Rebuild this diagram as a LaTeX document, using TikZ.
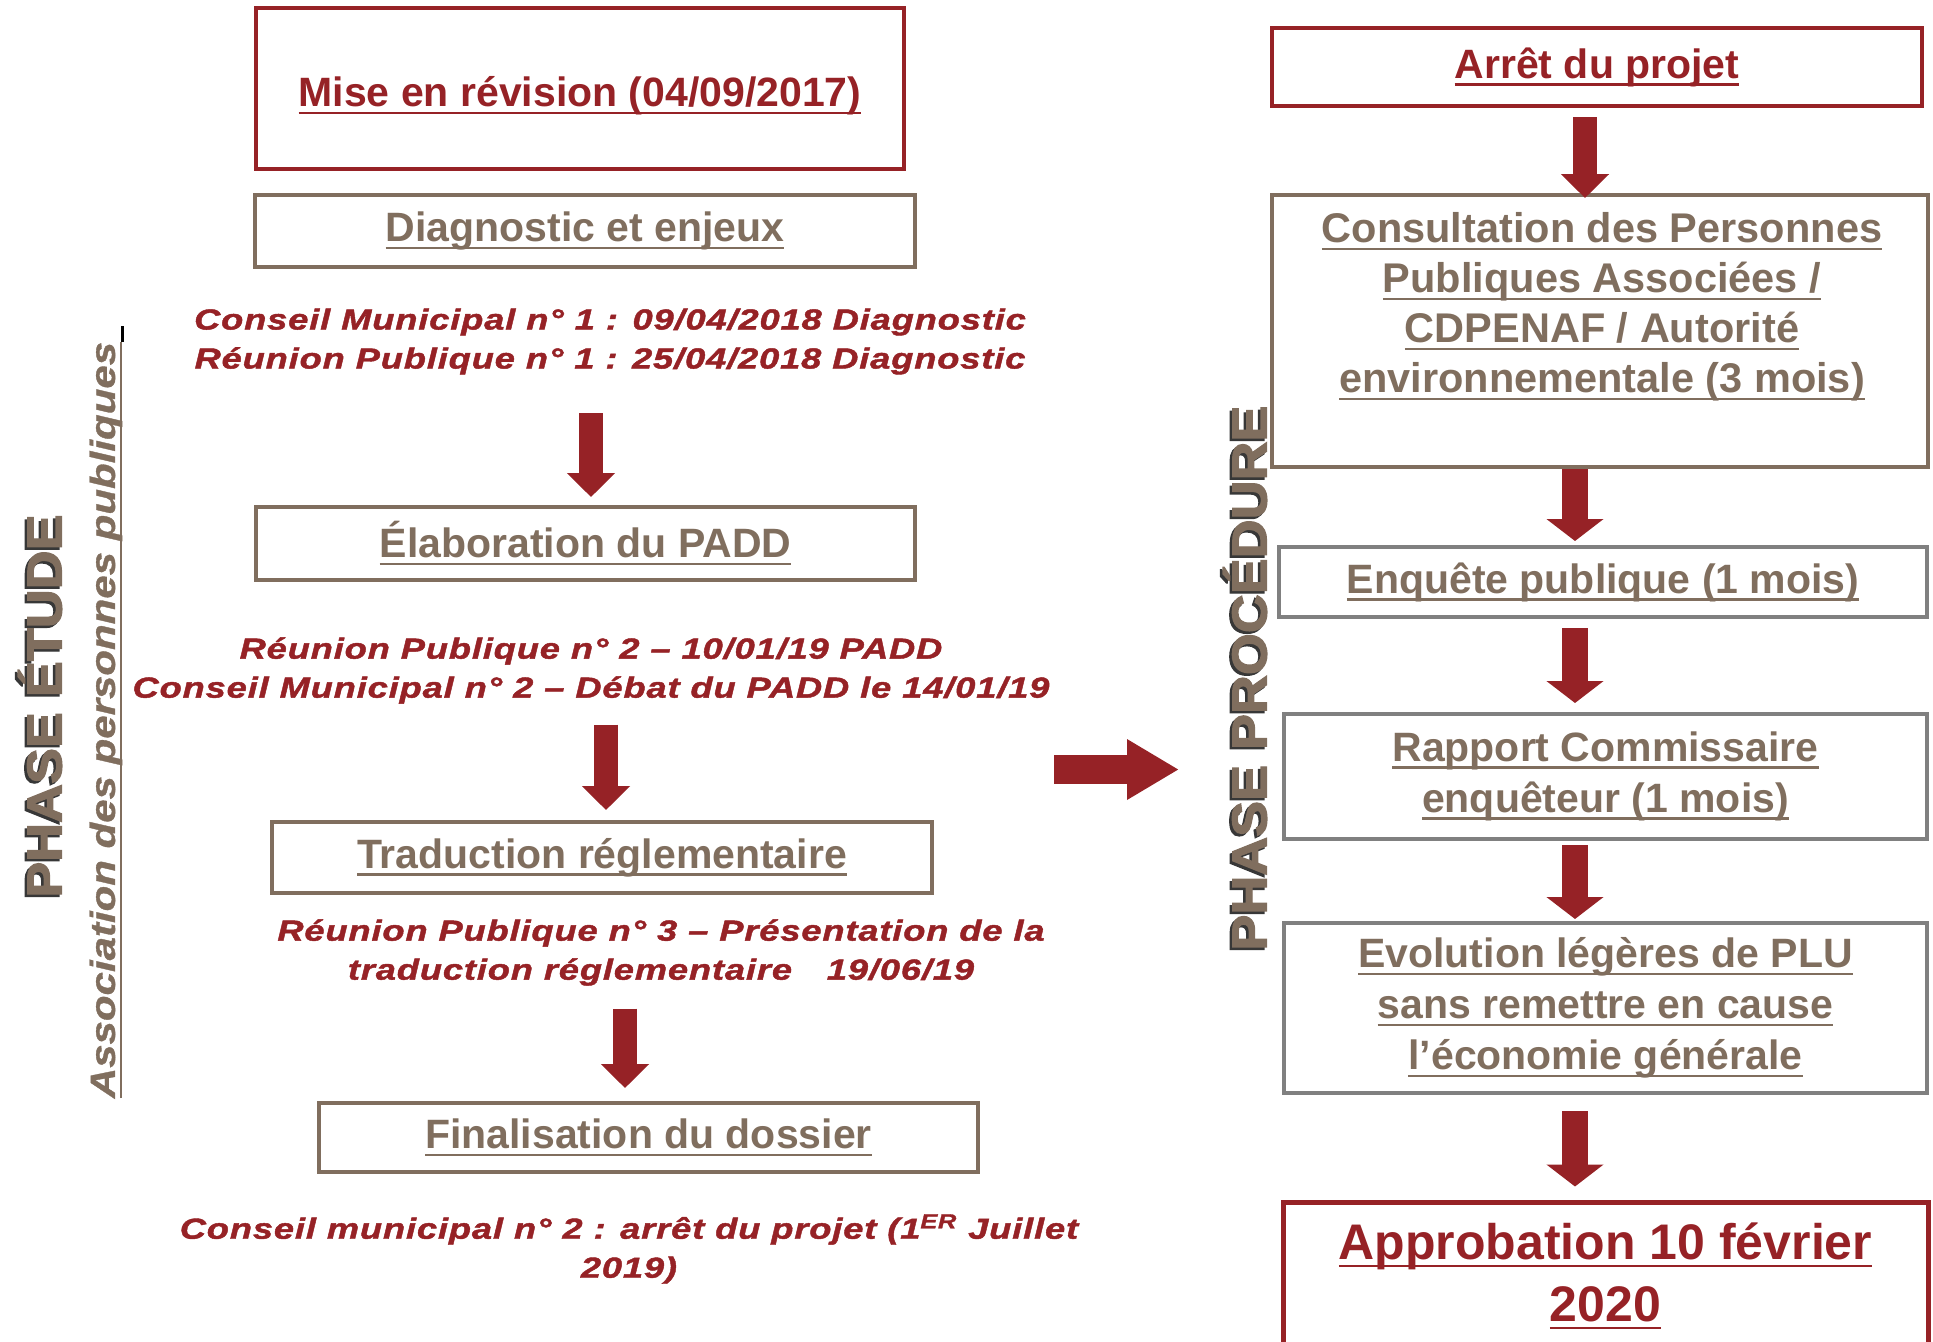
\documentclass[tikz,border=0pt]{standalone}
\usepackage{fontspec}
\setmainfont{Liberation Sans}
\newfontfamily\notefont[FakeStretch=1.25,LetterSpace=3,FakeBold=1.5]{Liberation Sans}
\newfontfamily\assocfont[FakeStretch=1.2,FakeBold=1]{Liberation Sans}
\newfontfamily\phasefont[FakeStretch=1.1,FakeBold=2.5]{Liberation Sans}
\usepackage{tikz}
\usetikzlibrary{arrows.meta,calc}

\definecolor{plured}{RGB}{150,34,38}
\definecolor{plubrown}{RGB}{128,110,94}
\definecolor{plugrey}{RGB}{128,128,128}
\definecolor{plushadow}{RGB}{55,55,55}

\newsavebox\ulsave
\newcommand{\ulbox}[1]{\sbox\ulsave{#1}\rlap{\vrule height -2.5pt depth 3.75pt width \wd\ulsave}\usebox\ulsave}

\tikzset{
  stepbox/.style={draw, line width=2pt, inner sep=0pt, align=center,
    font=\fontsize{20.5}{25.5}\selectfont\bfseries},
  redbox/.style={stepbox, draw=plured, text=plured},
  brownbox/.style={stepbox, draw=plubrown, text=plubrown},
  greybox/.style={stepbox, draw=plugrey, text=plubrown},
  boxtext/.style={align=center, inner sep=0pt, font=\fontsize{20.75}{25}\selectfont\bfseries},
  notetext/.style={text=plured, align=center, inner sep=0pt,
    font=\fontsize{14.5}{19.5}\notefont\bfseries\itshape},
  phasetext/.style={rotate=90, inner sep=0pt,
    font=\fontsize{24.5}{24.5}\phasefont\bfseries},
  downarrow/.style={plured, line width=12pt, -{Triangle[width=23.5pt,length=12pt]}},
  widearrow/.style={plured, line width=13pt, -{Triangle[width=28pt,length=11pt]}},
  sidearrow/.style={plured, line width=14.5pt, -{Triangle[width=28.5pt,length=26pt]}},
}

\begin{document}
\begin{tikzpicture}[x=0.5pt,y=0.5pt,yscale=-1,xscale=1]
\useasboundingbox (0,0) rectangle (1933,1341);

% Shape: Rectangle
\node[redbox, minimum width=324pt, minimum height=80.5pt] (mise) at (580,88) {};
% Text Node
\node[boxtext, text=plured, font=\fontsize{20.5}{25.5}\selectfont\bfseries] (misetext) at (580,96) {\ulbox{Mise en révision (04/09/2017)}};
% Shape: Rectangle
\node[brownbox, minimum width=330pt, minimum height=36pt] (diag) at (585,231) {\ulbox{Diagnostic et enjeux}};
% Text Node
\node[notetext] (cm1) at (610,341.5) {Conseil Municipal n° 1 : 09/04/2018 Diagnostic\\Réunion Publique n° 1 : 25/04/2018 Diagnostic};
% Shape: Rectangle
\node[brownbox, minimum width=329.5pt, minimum height=36.5pt] (padd) at (585.5,543.5) {\ulbox{Élaboration du PADD}};
% Text Node
\node[notetext] (rp2) at (591,670.5) {Réunion Publique n° 2 – 10/01/19 PADD\\Conseil Municipal n° 2 – Débat du PADD le 14/01/19};
% Shape: Rectangle
\node[brownbox, minimum width=330pt, minimum height=35.5pt] (trad) at (602,857.5) {\ulbox{Traduction réglementaire}};
% Text Node
\node[notetext] (rp3) at (661,952.5) {Réunion Publique n° 3 – Présentation de la\\traduction réglementaire\hspace{1.2em}19/06/19};
% Shape: Rectangle
\node[brownbox, minimum width=329.5pt, minimum height=34.5pt] (dossier) at (648.5,1137.5) {\ulbox{Finalisation du dossier}};
% Text Node
\node[notetext] (cm2) at (629,1249) {Conseil municipal n° 2 : arrêt du projet (1\textsuperscript{ER} Juillet\\2019)};

% Text Node
\node[phasetext, text=plushadow] (etudeshadow) at (37.5,708.5) {PHASE ÉTUDE};
\node[phasetext, text=plubrown] (etude) at (40,706) {PHASE ÉTUDE};
% Text Node
\node[rotate=90, inner sep=0pt, text=plubrown, font=\fontsize{17.5}{17.5}\assocfont\bfseries\itshape] (assoc) at (106,720) {\ulbox{Association des personnes publiques}};
\draw[black, line width=1.5pt] (assoc.south east) -- ++(0,-16);

% Shape: Rectangle
\node[redbox, minimum width=325pt, minimum height=39pt] (arret) at (1597,67) {\ulbox{Arrêt du projet}};
% Shape: Rectangle
\node[brownbox, minimum width=328pt, minimum height=136pt] (ppa) at (1600,331) {};
% Text Node
\node[boxtext, text=plubrown] (ppatext) at (1602,307) {\ulbox{Consultation des Personnes}\\\ulbox{Publiques Associées /}\\\ulbox{CDPENAF / Autorité}\\\ulbox{environnementale (3 mois)}};
% Shape: Rectangle
\node[greybox, minimum width=324pt, minimum height=35pt] (enquete) at (1603,582) {\ulbox{Enquête publique (1 mois)}};
% Shape: Rectangle
\node[greybox, minimum width=321.5pt, minimum height=62.5pt] (rapport) at (1605.5,776) {\ulbox{Rapport Commissaire}\\\ulbox{enquêteur (1 mois)}};
% Shape: Rectangle
\node[greybox, minimum width=321.5pt, minimum height=85pt] (evol) at (1605.5,1008) {\ulbox{Evolution légères de PLU}\\\ulbox{sans remettre en cause}\\\ulbox{l’économie générale}};
% Shape: Rectangle
\node[redbox, minimum width=322.5pt, minimum height=74pt, line width=2.5pt, font=\fontsize{25}{31}\selectfont\bfseries] (approb) at (1605.5,1276) {\ulbox{Approbation 10 février}\\\ulbox{2020}};

% Text Node
\node[phasetext, text=plushadow] (procshadow) at (1242.5,680.5) {PHASE PROCÉDURE};
\node[phasetext, text=plubrown] (proc) at (1245,678) {PHASE PROCÉDURE};

% Connection
\draw[downarrow] ($(cm1.south -| padd.north)+(5.5,38.5)$) -- ($(padd.north)+(5.5,-8)$);
% Connection
\draw[downarrow] ($(rp2.south -| trad.north)+(4,20.5)$) -- ($(trad.north)+(4,-10)$);
% Connection
\draw[downarrow] ($(rp3.south -| dossier.north)+(-23.5,22.5)$) -- ($(dossier.north)+(-23.5,-13)$);

% Connection
\coordinate (etudeout) at (1054,769.5);
\coordinate (procin) at (1179,769.5);
\draw[sidearrow] (etudeout) -- (procin);

% Connection
\draw[downarrow] ($(arret.south)+(-12,9)$) -- ($(ppa.north)+(-15,5)$);
% Connection
\draw[widearrow] ($(ppa.south)+(-25,0)$) -- ($(enquete.north)+(-28,-4)$);
% Connection
\draw[widearrow] ($(enquete.south)+(-28,9)$) -- ($(rapport.north)+(-30.5,-8.5)$);
% Connection
\draw[widearrow] ($(rapport.south)+(-30.5,4.5)$) -- ($(evol.north)+(-30.5,-2)$);
% Connection
\draw[widearrow] ($(evol.south)+(-30.5,16)$) -- ($(approb.north)+(-30.5,-13)$);

\end{tikzpicture}
\end{document}
